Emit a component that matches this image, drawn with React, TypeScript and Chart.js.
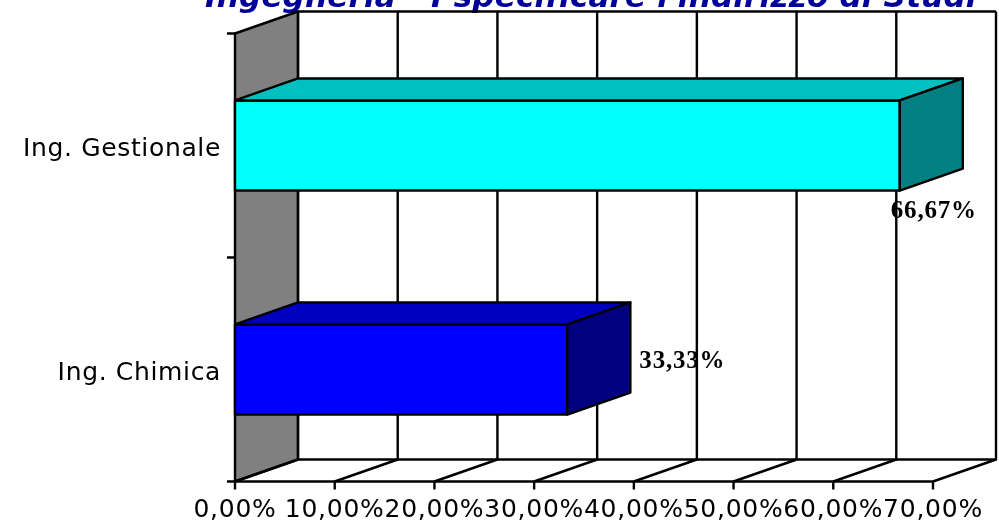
import React, { useEffect, useRef } from "react";
import { Chart, registerables } from "chart.js";

Chart.register(...registerables);

const categories = ["Ing. Gestionale", "Ing. Chimica"];
const values = [66.67, 33.33];
const valueLabels = ["66,67%", "33,33%"];
const frontColors = ["#00ffff", "#0000ff"];
const topColors = ["#00c0c0", "#0000c0"];
const sideColors = ["#008080", "#000080"];
const xTicks = [0, 10, 20, 30, 40, 50, 60, 70];
const xTickLabels = ["0,00%", "10,00%", "20,00%", "30,00%", "40,00%", "50,00%", "60,00%", "70,00%"];
const titleText = "Ingegneria - I specificare l'indirizzo di Studi";

const DX = 63;
const DY = -22;
const LW = 2.4;

const poly = (ctx: CanvasRenderingContext2D, pts: number[][], fill?: string) => {
  ctx.beginPath();
  pts.forEach((p, i) => (i ? ctx.lineTo(p[0], p[1]) : ctx.moveTo(p[0], p[1])));
  ctx.closePath();
  if (fill) {
    ctx.fillStyle = fill;
    ctx.fill();
  }
  ctx.stroke();
};

const threeD = {
  id: "threeD",
  beforeDraw(chart: any) {
    (chart.ctx as any).letterSpacing = "0.75px";
  },
  beforeDatasetsDraw(chart: any) {
    const { ctx, chartArea: a, scales } = chart;
    const x = scales.x;
    const y = scales.y;
    ctx.save();
    ctx.fillStyle = "#000";
    ctx.font = "25px 'DejaVu Sans'";
    ctx.textAlign = "right";
    ctx.textBaseline = "alphabetic";
    (ctx as any).letterSpacing = "0.65px";
    categories.forEach((c, i) => ctx.fillText(c, 221, y.getPixelForTick(i) + 10));
    (ctx as any).letterSpacing = "0.2px";
    ctx.fillStyle = "#000099";
    ctx.font = "italic bold 31px 'DejaVu Sans'";
    ctx.textAlign = "left";
    ctx.fillText(titleText, 205, 7);
    ctx.strokeStyle = "#000";
    ctx.lineWidth = LW;
    ctx.lineJoin = "round";
    // side wall
    poly(ctx, [[a.left, a.top], [a.left + DX, a.top + DY], [a.left + DX, a.bottom + DY], [a.left, a.bottom]], "#808080");
    // back wall grid + floor
    xTicks.forEach((t) => {
      const px = x.getPixelForValue(t);
      ctx.beginPath();
      ctx.moveTo(px, a.bottom);
      ctx.lineTo(px + DX, a.bottom + DY);
      ctx.lineTo(px + DX, a.top + DY);
      ctx.stroke();
      ctx.beginPath();
      ctx.moveTo(px, a.bottom);
      ctx.lineTo(px, a.bottom + 8);
      ctx.stroke();
    });
    ctx.beginPath();
    ctx.moveTo(a.left + DX, a.top + DY);
    ctx.lineTo(a.right + DX, a.top + DY);
    ctx.moveTo(a.left + DX, a.bottom + DY);
    ctx.lineTo(a.right + DX, a.bottom + DY);
    ctx.moveTo(a.left - 8, a.bottom);
    ctx.lineTo(a.right, a.bottom);
    ctx.moveTo(a.left - 8, a.top);
    ctx.lineTo(a.left, a.top);
    ctx.moveTo(a.left - 8, (a.top + a.bottom) / 2);
    ctx.lineTo(a.left, (a.top + a.bottom) / 2);
    ctx.stroke();
    ctx.restore();
  },
  afterDatasetsDraw(chart: any) {
    const { ctx } = chart;
    const bars = chart.getDatasetMeta(0).data;
    ctx.save();
    ctx.strokeStyle = "#000";
    ctx.lineWidth = LW;
    ctx.lineJoin = "round";
    bars.forEach((b: any, i: number) => {
      const { x, y, base, height } = b.getProps(["x", "y", "base", "height"], true);
      const t = y - height / 2;
      const bt = y + height / 2;
      poly(ctx, [[base, t], [x, t], [x, bt], [base, bt]]);
      poly(ctx, [[base, t], [base + DX, t + DY], [x + DX, t + DY], [x, t]], topColors[i]);
      poly(ctx, [[x, t], [x + DX, t + DY], [x + DX, bt + DY], [x, bt]], sideColors[i]);
    });
    ctx.fillStyle = "#000";
    ctx.font = "bold 25px 'Liberation Serif'";
    (ctx as any).letterSpacing = "0.8px";
    ctx.textBaseline = "alphabetic";
    ctx.textAlign = "left";
    bars.forEach((b: any, i: number) => {
      const { x, y } = b.getProps(["x", "y"], true);
      // labels sit beside / under each bar's end
      if (i === 0) ctx.fillText(valueLabels[i], x - 9, y + 72);
      else ctx.fillText(valueLabels[i], x + 72, y - 2);
    });
    ctx.restore();
  },
};

export default function App() {
  const ref = useRef<HTMLCanvasElement>(null);
  useEffect(() => {
    const tickFont = { family: "'DejaVu Sans'", size: 25 };
    const chart = new Chart(ref.current!, {
      type: "bar",
      data: {
        labels: categories,
        datasets: [
          {
            data: values,
            backgroundColor: frontColors,
            borderWidth: 0,
            categoryPercentage: 1,
            barPercentage: 0.402,
          },
        ],
      },
      plugins: [threeD],
      options: {
        animation: false,
        responsive: false,
        indexAxis: "y",
        layout: { padding: { left: 0, right: 66, top: 33.5, bottom: 0 } },
        plugins: {
          legend: { display: false },
          tooltip: { enabled: false },
          title: { display: false },
        },
        scales: {
          x: {
            min: 0,
            max: 70,
            grid: { display: false },
            border: { display: false },
            afterFit: (s: any) => { s.height = 43.5; },
            ticks: {
              stepSize: 10,
              maxRotation: 0,
              minRotation: 0,
              autoSkip: false,
              color: "#000",
              font: tickFont,
              padding: 6,
              callback: (_v: any, i: number) => xTickLabels[i],
            },
          },
          y: {
            grid: { display: false },
            border: { display: false },
            afterFit: (s: any) => { s.width = 235; },
            ticks: { display: false },
          },
        },
      },
    });
    return () => chart.destroy();
  }, []);
  return (
    <div style={{ position: "absolute", left: 0, top: 0, width: 999, height: 525, overflow: "hidden", background: "#fff" }}>
      <canvas ref={ref} width={999} height={525} style={{ display: "block" }} />
    </div>
  );
}
